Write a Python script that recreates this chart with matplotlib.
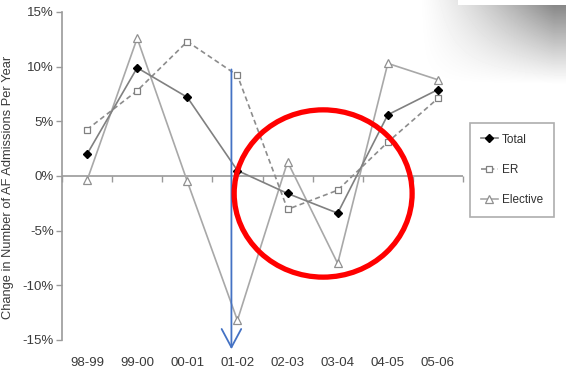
import numpy as np
import matplotlib
matplotlib.use("Agg")
import matplotlib.pyplot as plt
from matplotlib.patches import Ellipse

plt.rcParams['font.family'] = ['Liberation Sans', 'DejaVu Sans']

# Year-on-year change in AF admissions (%)
years = ['98-99', '99-00', '00-01', '01-02', '02-03', '03-04', '04-05', '05-06']
total = [2.0, 9.9, 7.2, 0.5, -1.6, -3.4, 5.6, 7.9]
er = [4.25, 7.8, 12.3, 9.2, -3.05, -1.3, 3.1, 7.1]
elective = [-0.4, 12.6, -0.5, -13.2, 1.3, -8.0, 10.3, 8.8]
yticks = [-15, -10, -5, 0, 5, 10, 15]

fig = plt.figure(figsize=(5.66, 3.83), dpi=100)
fig.patch.set_facecolor('white')

# soft grey shadow in the top right corner
bg = fig.add_axes([0, 0, 1, 1], zorder=-1)
gx, gy = np.meshgrid(np.linspace(0, 1, 566), np.linspace(0, 1, 383))
shade = np.clip((gx - 0.74) / 0.24, 0, 1) ** 1.3 * np.clip(1 - gy / 0.22, 0, 1) ** 1.1
shade[(gy < 0.012) & (gx > 0.81)] = 0
bg.imshow(1 - 0.5 * shade, cmap='gray', vmin=0, vmax=1, aspect='auto',
          extent=(0, 1, 1, 0))
bg.set_xlim(0, 1)
bg.set_ylim(1, 0)
bg.axis('off')

ax = fig.add_axes([62 / 566, 1 - 340 / 383, 401 / 566, 328 / 383])
ax.set_facecolor('none')
x = np.arange(len(years))

ax.plot(x, total, color='#808080', lw=1.2, marker='D', ms=4,
        mfc='black', mec='black', label='Total', zorder=4)
ax.plot(x, er, color='#8c8c8c', lw=1.2, ls=(0, (3, 2)), marker='s', ms=5,
        mfc='white', mec='#808080', mew=0.9, label='ER', zorder=3)
ax.plot(x, elective, color='#a8a8a8', lw=1.2, marker='^', ms=5.5,
        mfc='white', mec='#909090', mew=0.9, label='Elective', zorder=2)

# zero line with category separators
ax.axhline(0, color='#9a9a9a', lw=1.2, zorder=1)
ax.plot(np.arange(len(years) + 1) - 0.5, np.zeros(len(years) + 1), ls='none',
        marker=3, ms=4, color='#9a9a9a', mew=1, clip_on=False, zorder=1)

ax.set_xlim(-0.5, len(years) - 0.5)
ax.set_ylim(-15, 15)
ax.set_yticks(yticks)
ax.set_yticklabels([f'{v}%' for v in yticks])
ax.set_xticks(x)
ax.set_xticklabels(years)
ax.tick_params(axis='x', length=0, pad=12, labelsize=9.5, labelcolor='#3a3a3a')
ax.tick_params(axis='y', length=4, width=1, color='#9a9a9a', pad=2,
               labelsize=9.5, labelcolor='#3a3a3a')
for s in ['top', 'right', 'bottom']:
    ax.spines[s].set_visible(False)
ax.spines['left'].set_color('#9a9a9a')
ax.spines['left'].set_linewidth(1.2)
ax.set_ylabel('Change in Number of AF Admissions Per Year', fontsize=9.3,
              color='#3a3a3a')
ax.yaxis.set_label_coords(-0.12, 0.465)

leg = ax.legend(loc='upper left', bbox_to_anchor=(470 / 566, 1 - 123 / 383),
                bbox_transform=fig.transFigure, fontsize=8.5, frameon=True,
                fancybox=False, edgecolor='#9a9a9a', handlelength=1.5,
                handletextpad=0.3, labelspacing=1.55, borderpad=0.9,
                borderaxespad=0)
leg.get_frame().set_linewidth(1.2)
for t in leg.get_texts():
    t.set_color('#303030')

# highlight: arrow at 01-02 and circle round 02-03 .. 03-04
ax.annotate('', xy=(2.88, -16.1), xytext=(2.88, 10),
            arrowprops=dict(arrowstyle='->, head_length=0.6, head_width=0.32',
                            color='#4472c4', lw=1.3, mutation_scale=22),
            annotation_clip=False, zorder=6)
ax.add_patch(Ellipse((4.71, -1.6), 3.55, 15.3, fill=False, edgecolor='#ff0000',
                     lw=3.8, zorder=7, clip_on=False))

fig.savefig('out.png', dpi=100)
